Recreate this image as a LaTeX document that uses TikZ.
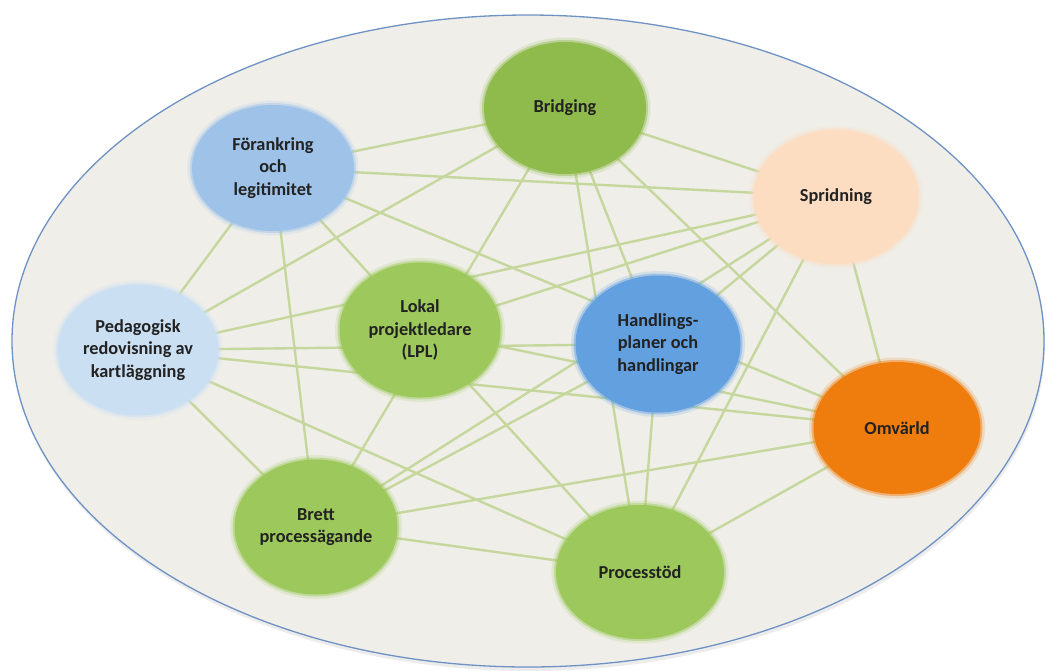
\documentclass[tikz,border=0pt]{standalone}
\usepackage{fontspec}
\setmainfont{Carlito}
\usetikzlibrary{shapes.geometric}
\pgfdeclarelayer{bg}
\pgfdeclarelayer{edges}
\pgfsetlayers{bg,edges,main}
\definecolor{edgec}{HTML}{C6D79E}
\definecolor{plate}{HTML}{EFEEE9}
\definecolor{platerim}{HTML}{6F92C4}
\definecolor{gdark}{HTML}{8FBB4C}
\definecolor{glight}{HTML}{9DC85C}
\definecolor{bmid}{HTML}{9EC2E8}
\definecolor{blight}{HTML}{CBDFF3}
\definecolor{bstrong}{HTML}{62A0E0}
\definecolor{peach}{HTML}{FDDDC2}
\definecolor{orng}{HTML}{EE7D0E}
\definecolor{txt}{HTML}{222222}
\begin{document}
\begin{tikzpicture}[x=1pt,y=-1pt,
  blob/.style={ellipse,inner sep=0pt,minimum width=164pt,minimum height=134pt,
    align=center,text=txt,font=\bfseries\fontsize{18.3}{22.5}\selectfont,
    fill=#1,draw=#1,draw opacity=0.45,line width=4pt,
    preaction={draw=#1,draw opacity=0.18,line width=9pt}},
  link/.style={draw=edgec,line width=2.4pt}]
\useasboundingbox (0,0) rectangle (1046,670);
\begin{pgfonlayer}{bg}
  \fill[gray!25,opacity=0.6] (529,345) ellipse [x radius=516, y radius=326];
  \draw[fill=plate,draw=platerim,line width=1.3pt] (528,341) ellipse [x radius=516, y radius=326];
\end{pgfonlayer}
\node[blob=gdark,minimum width=162pt,minimum height=132pt] (brid) at (565,108) {Bridging};
\node[blob=bmid,minimum width=162pt,minimum height=126pt] (foer) at (273,168) {Förankring\\och\\legitimitet};
\node[blob=peach,minimum width=165pt,minimum height=134pt] (spri) at (836,197) {Spridning};
\node[blob=blight,minimum width=161pt,minimum height=131pt] (peda) at (138,350) {Pedagogisk\\redovisning av\\kartläggning};
\node[blob=glight,minimum width=161pt,minimum height=135pt] (lokal) at (420,330) {Lokal\\projektledare\\(LPL)};
\node[blob=bstrong,minimum width=165pt,minimum height=137pt] (handl) at (658,344) {Handlings-\\planer och\\handlingar};
\node[blob=orng,minimum width=167pt,minimum height=132pt] (omv) at (897,428) {Omvärld};
\node[blob=glight,minimum width=163pt,minimum height=135pt] (brett) at (316,527) {Brett\\processägande};
\node[blob=glight,minimum width=168pt,minimum height=134pt] (proc) at (640,572) {Processtöd};
\begin{pgfonlayer}{edges}
  \foreach \a/\b in {
    brid/foer, brid/spri, brid/peda, brid/brett, brid/handl, brid/omv, brid/proc,
    foer/spri, foer/peda, foer/lokal, foer/brett, foer/omv,
    spri/peda, spri/lokal, spri/handl, spri/brett, spri/proc, spri/omv,
    peda/handl, peda/omv, peda/brett, peda/proc,
    lokal/omv, lokal/proc,
    handl/brett, handl/proc,
    omv/brett, omv/proc,
    brett/proc}
    \draw[link] (\a.center) -- (\b.center);
\end{pgfonlayer}
\end{tikzpicture}
\end{document}
